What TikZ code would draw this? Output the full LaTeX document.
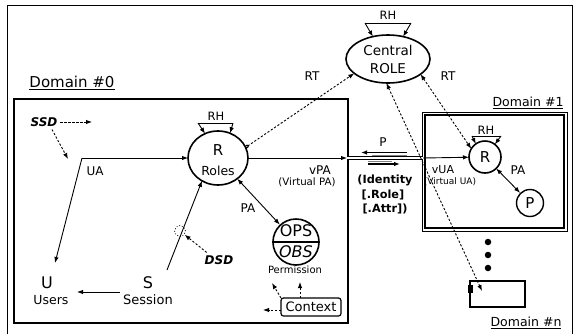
\documentclass[tikz,border=0pt]{standalone}
\usepackage{fontspec}
\setmainfont{DejaVu Sans}
\usetikzlibrary{arrows.meta,shapes.geometric}
\newcommand{\myfs}[1]{\fontsize{#1}{#1}\selectfont}
\begin{document}
\begin{tikzpicture}[x=1pt,y=-1pt,
  tip/.style={-{Latex[length=6pt,width=4.5pt]}},
  ar/.style={tip, line width=0.9pt},
  dar/.style={{Latex[length=6pt,width=4.5pt]}-{Latex[length=6pt,width=4.5pt]}, line width=0.9pt},
  dsh/.style={dash pattern=on 2.2pt off 1.8pt, line width=0.9pt},
  lbl/.style={inner sep=0pt, outer sep=0pt},
  rolec/.style={draw, line width=1.6pt, ellipse, inner sep=0pt, outer sep=0pt},
  boxn/.style={draw, rectangle, inner sep=0pt, outer sep=0pt},
  dotn/.style={circle, fill, inner sep=0pt, minimum size=6.5pt},
  ]
\useasboundingbox (0,0) rectangle (582,333);
\fill[white] (0,0) rectangle (582,333);
% outer frame
\node[boxn, line width=0.7pt, minimum width=565pt, minimum height=330pt, anchor=north west] (frame) at (7,5) {};
% domain boxes
\node[boxn, line width=2.8pt, minimum width=334pt, minimum height=224pt] (d0) at (181,211) {};
\node[boxn, line width=0.7pt, minimum width=145pt, minimum height=119pt] (d1o) at (494.5,171.5) {};
\node[boxn, line width=2pt, minimum width=139pt, minimum height=113pt] (d1) at (494.5,171.5) {};
\node[boxn, line width=1.2pt, minimum width=55pt, minimum height=26pt] (dn) at (497.5,294) {};
\draw[line width=2.8pt] (dn.north east) -- (dn.south east) -- (dn.south west);
\node[fill, inner sep=0pt, minimum width=5pt, minimum height=8pt] (dnsq) at ([yshift=5pt]dn.west) {};
% domain labels
\node[lbl] (l0) at (72,83) {\myfs{15}\underline{Domain \#0}};
\node[lbl] (l1) at (528,103) {\myfs{12.5}\underline{Domain \#1}};
\node[lbl] (ln) at (526,323) {\myfs{12.5}\underline{Domain \#n}};
% central role
\node[rolec, minimum width=84pt, minimum height=48pt] (cr) at (388,59) {};
\node[lbl] (crt1) at (388,50) {\myfs{13.5}Central};
\node[lbl] (crt2) at (388,69) {\myfs{13.5}ROLE};
\coordinate (crh1) at (365,23);
\coordinate (crh2) at (411,23);
\draw[line width=1pt] (crh1) -- (crh2);
\draw[ar] (crh1) -- (cr.124);
\draw[ar] (crh2) -- (cr.56);
\node[lbl] (crrh) at (388,15) {\myfs{11.5}RH};
% roles in domain 0
\node[rolec, minimum width=60pt, minimum height=54pt] (r0) at (218,158) {};
\node[lbl] (r0t) at (218,150) {\myfs{15}R};
\node[lbl] (r0s) at (218,171) {\myfs{12.5}Roles};
\coordinate (r0h1) at (198,123);
\coordinate (r0h2) at (233,123);
\draw[line width=1pt] (r0h1) -- (r0h2);
\draw[ar] (r0h1) -- (r0.118);
\draw[ar] (r0h2) -- (r0.64);
\node[lbl] (r0rh) at (216,116) {\myfs{11.5}RH};
% SSD
\node[lbl] (ssd) at (44,122) {\myfs{12}\textbf{\textit{SSD}}};
\coordinate (ssdr) at (92,122);
\coordinate (ssdd) at (68,159);
\draw[ar,dsh] ([xshift=3pt]ssd.east) -- (ssdr);
\draw[ar,dsh] ([xshift=8pt,yshift=-3pt]ssd.south) -- (ssdd);
% UA
\coordinate (ua) at (82,158);
\coordinate (uin) at (55,263);
\draw[ar] (ua) -- (r0);
\draw[ar] (ua) -- (uin);
\node[lbl] (uat) at (95,171) {\myfs{12}UA};
% users and session
\node[lbl] (u) at (47,283) {\myfs{16}U};
\node[lbl] (users) at (51,300) {\myfs{12.5}Users};
\node[lbl] (s) at (148,283) {\myfs{16}S};
\node[lbl] (sess) at (148,300) {\myfs{13}Session};
\coordinate (s1) at (120,292);
\coordinate (u1) at (77,292);
\draw[ar] (s1) -- (u1);
\coordinate (ss) at (167,270);
\draw[ar] (ss) -- (r0.235);
% DSD
\node[circle, draw, dotted, line width=0.8pt, minimum size=11pt, inner sep=0pt] (dsdc) at (180,231) {};
\node[lbl] (dsd) at (219,260) {\myfs{12}\textbf{\textit{DSD}}};
\draw[ar,dsh] ([xshift=2pt,yshift=3pt]dsd.north west) -- (dsdc);
% permission
\node[circle, draw, line width=1.6pt, minimum size=46pt, inner sep=0pt] (ops) at (296,242) {};
\draw[line width=1.2pt] (ops.west) -- (ops.east);
\node[lbl] (opst) at (296,231) {\myfs{16}OPS};
\node[lbl] (obst) at (296,252) {\myfs{16}\textit{OBS}};
\node[lbl] (perm) at (295,270) {\myfs{10}Permission};
\draw[dar] (r0) -- (ops);
\node[lbl] (pa0) at (248,208) {\myfs{12}PA};
% context
\node[boxn, rounded corners=2.5pt, line width=1.2pt, minimum width=60pt, minimum height=18pt] (ctx) at (311,307) {};
\node[lbl] (ctxt) at (311,307) {\myfs{13}Context};
\coordinate (cx1) at (300,282);
\coordinate (cx2) at (272,283);
\coordinate (cx3) at (263,310);
\draw[ar,dsh] ([xshift=-11pt]ctx.north) -- (cx1);
\draw[ar,dsh] (ctx.north west) -- (cx2);
\draw[ar,dsh] ([yshift=-3pt]ctx.west) -- (cx3);
% vPA and channel
\coordinate (d0e) at (347,158);
\coordinate (d1w) at (423,158);
\draw[ar] (r0) -- (d0e);
\draw[double, double distance=2.4pt, line width=1pt] (d0e) -- (d1w);
\node[rolec, circle, minimum size=32pt] (r1) at (485,157) {};
\draw[ar] (d1w) -- (r1);
\node[lbl] (vpa) at (320,170) {\myfs{12}vPA};
\node[lbl] (vpa2) at (307,182) {\myfs{10.2}(Virtual PA)};
\coordinate (pu1) at (407,152.5);
\coordinate (pu2) at (361,152.5);
\draw[ar, line width=1.1pt] (pu1) -- (pu2);
\coordinate (pg1) at (372,155);
\coordinate (pg2) at (407,155);
\draw[gray, line width=0.8pt] (pg1) -- (pg2);
\coordinate (pl1) at (368,164);
\coordinate (pl2) at (400,164);
\draw[ar, line width=1.1pt] (pl1) -- (pl2);
\coordinate (pk1) at (368,161.5);
\coordinate (pk2) at (392,161.5);
\draw[gray, line width=0.8pt] (pk1) -- (pk2);
\node[lbl] (pt) at (383,142) {\myfs{12}P};
\node[lbl] (id1) at (385,180) {\myfs{11.3}\textbf{(Identity}};
\node[lbl] (id2) at (383,195) {\myfs{11.3}\textbf{[.Role]}};
\node[lbl] (id3) at (385,209) {\myfs{11.3}\textbf{[.Attr])}};
% domain 1 contents
\node[lbl] (r1t) at (485,157) {\myfs{15}R};
\coordinate (r1h1) at (472,136);
\coordinate (r1h2) at (501,136);
\draw[line width=1pt] (r1h1) -- (r1h2);
\draw[ar] (r1h1) -- (r1.125);
\draw[ar] (r1h2) -- (r1.52);
\node[lbl] (r1rh) at (486,130) {\myfs{11.5}RH};
\node[circle, draw, line width=1.4pt, minimum size=27pt, inner sep=0pt] (p1) at (530,203) {};
\node[lbl] (p1t) at (530,203) {\myfs{15}P};
\draw[dar] (r1) -- (p1);
\node[lbl] (pa1) at (518,170) {\myfs{12}PA};
\node[lbl] (vua) at (443,170) {\myfs{11}vUA};
\node[lbl] (vua2) at (450,182) {\myfs{9}(Virtual UA)};
% dots
\node[dotn] (dot1) at (488,242) {};
\node[dotn] (dot2) at (488,255) {};
\node[dotn] (dot3) at (488,268) {};
% RT links
\draw[dsh, {Square[open,length=3pt,width=3pt]}-{Latex[length=6pt,width=4.5pt]}] (r0.21) -- (cr.203);
\node[lbl] (rt1) at (312,76) {\myfs{12}RT};
\draw[dsh, {Latex[length=6pt,width=4.5pt]}-{Latex[length=6pt,width=4.5pt]}] (cr.335) -- (r1.149);
\node[lbl] (rt2) at (448,76) {\myfs{12}RT};
\coordinate (dnin) at (482,291);
\draw[dsh, {Latex[length=6pt,width=4.5pt]}-{Latex[length=6pt,width=4.5pt]}] (cr.266) -- (dnin);
\end{tikzpicture}
\end{document}
